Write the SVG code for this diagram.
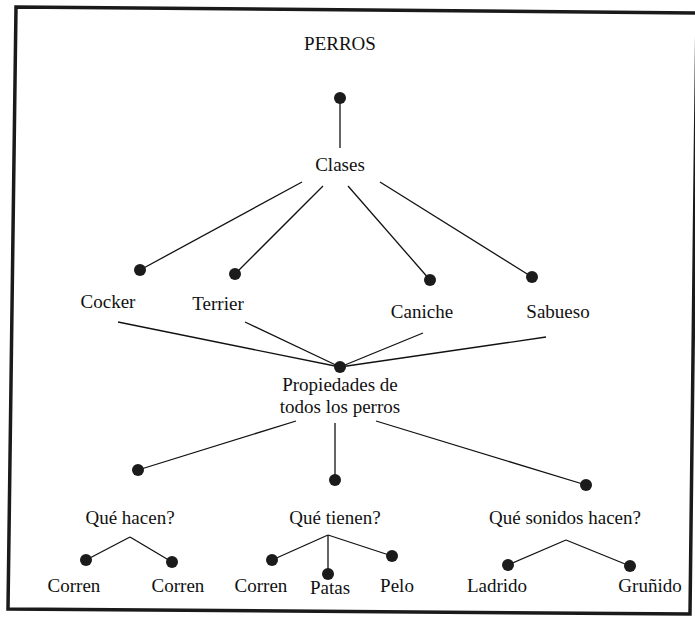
<svg xmlns="http://www.w3.org/2000/svg" width="695" height="618" viewBox="0 0 695 618">
  <style>
    text { font-family: 'Liberation Serif', 'DejaVu Serif', 'Noto Serif', serif; font-size: 19px; fill: #111; text-anchor: middle; }
    .edge { stroke: #111; stroke-width: 1.3; fill: none; }
    .dot { fill: #1b1b1b; }
    .frame { stroke: #1a1a1a; stroke-width: 3.5; fill: none; }
  </style>
  <rect width="695" height="618" fill="#fff"/>
  <!-- outer frame, slightly tilted -->
  <path class="frame" d="M16,7 L697,13 L690,614 L8,609 Z"/>

  <g id="connectors">
    <line class="edge" x1="340" y1="98" x2="340" y2="148"/>
    <line class="edge" x1="302" y1="182" x2="140" y2="270"/>
    <line class="edge" x1="323" y1="186" x2="235" y2="274"/>
    <line class="edge" x1="348" y1="186" x2="430" y2="280"/>
    <line class="edge" x1="380" y1="182" x2="532" y2="277"/>
    <line class="edge" x1="118" y1="322" x2="340" y2="367"/>
    <line class="edge" x1="245" y1="322" x2="340" y2="367"/>
    <line class="edge" x1="423" y1="333" x2="340" y2="367"/>
    <line class="edge" x1="546" y1="337" x2="340" y2="367"/>
    <line class="edge" x1="296" y1="421" x2="138" y2="470"/>
    <line class="edge" x1="335" y1="423" x2="335" y2="480"/>
    <line class="edge" x1="376" y1="421" x2="586" y2="485"/>
    <line class="edge" x1="130" y1="537" x2="86" y2="560"/>
    <line class="edge" x1="130" y1="537" x2="172" y2="562"/>
    <line class="edge" x1="328" y1="535" x2="272" y2="560"/>
    <line class="edge" x1="328" y1="535" x2="328" y2="574"/>
    <line class="edge" x1="328" y1="535" x2="392" y2="556"/>
    <line class="edge" x1="566" y1="540" x2="508" y2="565"/>
    <line class="edge" x1="566" y1="540" x2="630" y2="566"/>
  </g>

  <g id="perros"><text x="340" y="50">PERROS</text><circle class="dot" cx="340" cy="98" r="6"/></g>
  <g id="clases"><text x="340" y="171">Clases</text></g>
  <g id="cocker"><circle class="dot" cx="140" cy="270" r="6"/><text x="108" y="308">Cocker</text></g>
  <g id="terrier"><circle class="dot" cx="235" cy="274" r="6"/><text x="218" y="310">Terrier</text></g>
  <g id="caniche"><circle class="dot" cx="430" cy="280" r="6"/><text x="422" y="318">Caniche</text></g>
  <g id="sabueso"><circle class="dot" cx="532" cy="277" r="6"/><text x="558" y="318">Sabueso</text></g>
  <g id="propiedades"><circle class="dot" cx="340" cy="367" r="6"/>
    <text x="340" y="391">Propiedades de</text>
    <text x="340" y="413">todos los perros</text></g>
  <g id="que-hacen"><circle class="dot" cx="138" cy="470" r="6"/><text x="130" y="524">Qué hacen?</text></g>
  <g id="que-tienen"><circle class="dot" cx="335" cy="480" r="6"/><text x="335" y="524">Qué tienen?</text></g>
  <g id="que-sonidos"><circle class="dot" cx="586" cy="485" r="6"/><text x="565" y="524">Qué sonidos hacen?</text></g>
  <g id="corren-1"><circle class="dot" cx="86" cy="560" r="6"/><text x="74" y="592">Corren</text></g>
  <g id="corren-2"><circle class="dot" cx="172" cy="562" r="6"/><text x="178" y="592">Corren</text></g>
  <g id="corren-3"><circle class="dot" cx="272" cy="560" r="6"/><text x="261" y="592">Corren</text></g>
  <g id="patas"><circle class="dot" cx="328" cy="574" r="6"/><text x="330" y="594">Patas</text></g>
  <g id="pelo"><circle class="dot" cx="392" cy="556" r="6"/><text x="397" y="592">Pelo</text></g>
  <g id="ladrido"><circle class="dot" cx="508" cy="565" r="6"/><text x="497" y="592">Ladrido</text></g>
  <g id="grunido"><circle class="dot" cx="630" cy="566" r="6"/><text x="650" y="592">Gruñido</text></g>
</svg>
